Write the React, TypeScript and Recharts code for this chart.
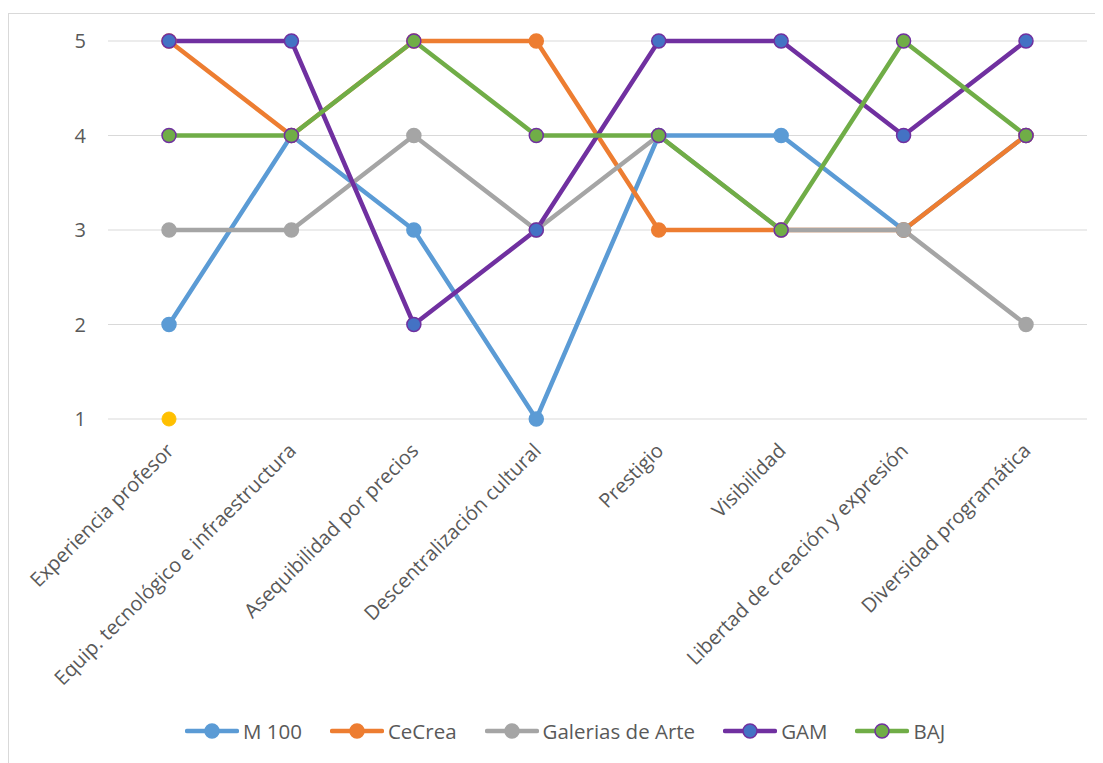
import { LineChart, Line, XAxis, YAxis, CartesianGrid, Legend } from 'recharts';

const categories = [
  'Experiencia profesor',
  'Equip. tecnológico e infraestructura',
  'Asequibilidad por precios',
  'Descentralización cultural',
  'Prestigio',
  'Visibilidad',
  'Libertad de creación y expresión',
  'Diversidad programática',
];

const m100 = [2, 4, 3, 1, 4, 4, 3, 4];
const cecrea = [5, 4, 5, 5, 3, 3, 3, 4];
const galerias = [3, 3, 4, 3, 4, 3, 3, 2];
const gam = [5, 5, 2, 3, 5, 5, 4, 5];
const baj = [4, 4, 5, 4, 4, 3, 5, 4];
const extra = [1, null, null, null, null, null, null, null];

const yTicks = [1, 2, 3, 4, 5];

const data = categories.map((name, i) => ({
  name,
  m100: m100[i],
  cecrea: cecrea[i],
  galerias: galerias[i],
  gam: gam[i],
  baj: baj[i],
  extra: extra[i],
}));

const FONT = '"Open Sans", sans-serif';
const TEXT = '#595959';

const series = [
  { key: 'm100', name: 'M 100', color: '#5B9BD5', fill: '#5B9BD5', ring: '#5B9BD5' },
  { key: 'cecrea', name: 'CeCrea', color: '#ED7D31', fill: '#ED7D31', ring: '#ED7D31' },
  { key: 'galerias', name: 'Galerias de Arte', color: '#A5A5A5', fill: '#A5A5A5', ring: '#A5A5A5' },
  { key: 'gam', name: 'GAM', color: '#7030A0', fill: '#4472C4', ring: '#7030A0' },
  { key: 'baj', name: 'BAJ', color: '#70AD47', fill: '#70AD47', ring: '#7030A0' },
];

function XTick({ x, y, payload }: any) {
  const ax = x + 1;
  const ay = y + 26;
  return (
    <text
      x={ax}
      y={ay}
      dy="0.35em"
      transform={`rotate(-45, ${ax}, ${ay})`}
      textAnchor="end"
      fill={TEXT}
      fontSize={20}
      fontFamily={FONT}
    >
      {payload.value}
    </text>
  );
}

function LegendBox() {
  return (
    <div style={{ display: 'flex', alignItems: 'center', fontFamily: FONT, fontSize: 20.5, color: TEXT, height: 24 }}>
      {series.map((s) => (
        <div key={s.key} style={{ display: 'flex', alignItems: 'center', marginRight: 28 }}>
          <svg width={54} height={18} style={{ marginRight: 4 }}>
            <line x1={2} y1={9} x2={52} y2={9} stroke={s.color} strokeWidth={4.5} strokeLinecap="round" />
            <circle cx={27} cy={9} r={7} fill={s.fill} stroke={s.ring} strokeWidth={1.5} />
          </svg>
          <span>{s.name}</span>
        </div>
      ))}
    </div>
  );
}

export default function App() {
  return (
    <div style={{ width: 1095, height: 755, position: 'relative', overflow: 'hidden', background: '#fff' }}>
      <style>{'body { overflow: hidden; }'}</style>
      <div
        style={{
          position: 'absolute',
          top: 5,
          left: 0,
          width: 1200,
          height: 1000,
          borderTop: '1px solid #d9d9d9',
          borderLeft: '1px solid #d9d9d9',
        }}
      />
      <div style={{ position: 'absolute', top: 0, left: 0 }}>
        <LineChart width={1095} height={747} data={data} margin={{ top: 33, right: 16, left: 40, bottom: 0 }}>
          <CartesianGrid vertical={false} stroke="#d9d9d9" strokeWidth={1} />
          <XAxis
            dataKey="name"
            interval={0}
            axisLine={false}
            tickLine={false}
            tickSize={0}
            height={312}
            padding={{ left: 61, right: 61 }}
            tick={<XTick />}
          />
          <YAxis
            domain={[1, 5]}
            ticks={yTicks}
            width={60}
            axisLine={false}
            tickLine={false}
            tickSize={0}
            tickMargin={22}
            tick={{ fill: TEXT, fontSize: 20, fontFamily: FONT }}
          />
          <Legend
            content={<LegendBox />}
            wrapperStyle={{ position: 'absolute', left: 177, top: 711, width: 950, height: 24 }}
          />
          {series.map((s) => (
            <Line
              key={s.key}
              dataKey={s.key}
              name={s.name}
              stroke={s.color}
              strokeWidth={4.5}
              dot={{ r: 7, fill: s.fill, stroke: s.ring, strokeWidth: 1.5 }}
              activeDot={false}
              isAnimationActive={false}
            />
          ))}
          <Line
            dataKey="extra"
            name="extra"
            legendType="none"
            stroke="#FFC000"
            strokeWidth={4.5}
            dot={{ r: 7, fill: '#FFC000', stroke: '#FFC000', strokeWidth: 1 }}
            activeDot={false}
            isAnimationActive={false}
          />
        </LineChart>
      </div>
    </div>
  );
}
